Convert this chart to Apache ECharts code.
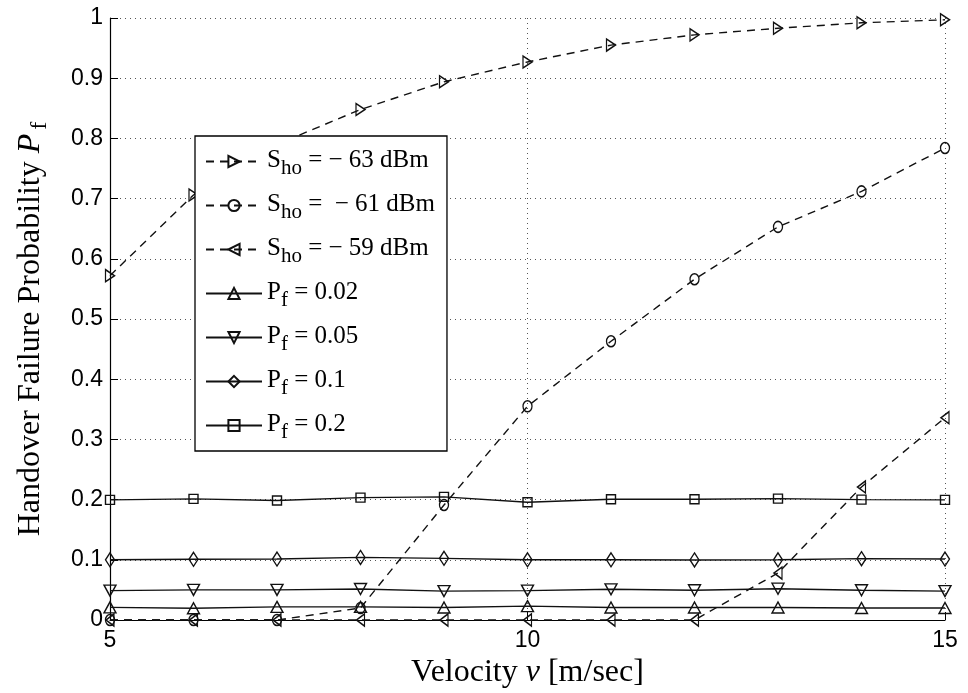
<!DOCTYPE html>
<html>
<head>
<meta charset="utf-8">
<script src="https://cdn.jsdelivr.net/npm/echarts@6/dist/echarts.min.js"></script>
<style>
  html, body { margin: 0; padding: 0; background: #fff; }
  #chart { width: 968px; height: 693px; }
</style>
</head>
<body>
<div id="chart"></div>
<script>
// velocity [m/sec]
var velocity = [5, 6, 7, 8, 9, 10, 11, 12, 13, 14, 15];

// S_ho curves
var sho63 = [0.572, 0.706, 0.79, 0.848, 0.894, 0.927, 0.955, 0.972, 0.983, 0.992, 0.997];
var sho61 = [0, 0, 0, 0.02, 0.191, 0.355, 0.463, 0.566, 0.653, 0.712, 0.784];
var sho59 = [0, 0, 0, 0, 0, 0, 0, 0, 0.078, 0.221, 0.336];

// fixed Pf curves
var pf02 = [0.1995, 0.2012, 0.1984, 0.2033, 0.2045, 0.1956, 0.2006, 0.2006, 0.2017, 0.2, 0.1995];
var pf01 = [0.1, 0.1008, 0.1013, 0.104, 0.1024, 0.1, 0.1, 0.0997, 0.1, 0.1019, 0.1013];
var pf005 = [0.0488, 0.05, 0.05, 0.0515, 0.048, 0.0488, 0.051, 0.0494, 0.052, 0.0494, 0.048];
var pf002 = [0.021, 0.0195, 0.0218, 0.0218, 0.0207, 0.023, 0.0207, 0.0207, 0.0207, 0.02, 0.02];

var yTicks = ["0", "0.1", "0.2", "0.3", "0.4", "0.5", "0.6", "0.7", "0.8", "0.9", "1"];

var names = ["S63", "S61", "S59", "P002", "P005", "P01", "P02"];
var legendText = {
  S63: "{a|S}{sub|ho}{a| = − 63 dBm}",
  S61: "{a|S}{sub|ho}{a| =  − 61 dBm}",
  S59: "{a|S}{sub|ho}{a| = − 59 dBm}",
  P002: "{a|P}{sub|f}{a| = 0.02}",
  P005: "{a|P}{sub|f}{a| = 0.05}",
  P01: "{a|P}{sub|f}{a| = 0.1}",
  P02: "{a|P}{sub|f}{a| = 0.2}"
};

function pairs(arr) {
  return velocity.map(function (v, i) { return [v, arr[i]]; });
}

function makeSeries(name, arr, symbol, rotate, size, dashed) {
  return {
    name: name,
    type: "line",
    data: pairs(arr),
    symbol: symbol,
    symbolRotate: rotate,
    symbolSize: size,
    showAllSymbol: true,
    animation: false,
    lineStyle: { color: "#111", width: 1.4, type: dashed ? [8, 6] : "solid" },
    itemStyle: { color: "rgba(255,255,255,0)", borderColor: "#111", borderWidth: 1.4 }
  };
}

var chart = echarts.init(document.getElementById("chart"));
chart.setOption({
  backgroundColor: "#fff",
  animation: false,
  grid: { left: 110, right: 23, top: 18, bottom: 73, containLabel: false, outerBoundsMode: "none" },
  legend: {
    orient: "vertical",
    left: 195,
    top: 136,
    data: names,
    backgroundColor: "#fff",
    borderColor: "#000",
    borderWidth: 1.3,
    borderRadius: 0,
    padding: [8, 12, 8, 10],
    itemWidth: 56,
    itemHeight: 14,
    itemGap: 9,
    formatter: function (n) { return legendText[n]; },
    textStyle: {
      color: "#000",
      rich: {
        a: { fontFamily: "Liberation Serif", fontSize: 25, color: "#000", lineHeight: 28, verticalAlign: "top" },
        sub: { fontFamily: "Liberation Serif", fontSize: 21, color: "#000", lineHeight: 21, padding: [14, 0, 0, 0] }
      }
    }
  },
  xAxis: {
    type: "value",
    min: 5,
    max: 15,
    interval: 5,
    name: "{a|Velocity }{i|v}{a| [m/sec]}",
    nameLocation: "middle",
    nameGap: 32,
    nameTextStyle: {
      rich: {
        a: { fontFamily: "Liberation Serif", fontSize: 32, color: "#000", lineHeight: 36 },
        i: { fontFamily: "Liberation Serif", fontStyle: "italic", fontSize: 32, color: "#000", lineHeight: 36 }
      }
    },
    axisLine: { lineStyle: { color: "#000", width: 1.2 } },
    axisTick: { inside: true, length: 8, lineStyle: { color: "#000" } },
    axisLabel: { color: "#000", fontFamily: "Liberation Sans", fontSize: 23, margin: 9 },
    splitLine: { show: true, lineStyle: { color: "#555", type: [1, 4], width: 1 } }
  },
  yAxis: {
    type: "value",
    min: 0,
    max: 1,
    interval: 0.1,
    name: "{a|Handover Failure Probability }{i|P}{sub|f}",
    nameLocation: "middle",
    nameGap: 60,
    nameTextStyle: {
      rich: {
        a: { fontFamily: "Liberation Serif", fontSize: 32, color: "#000", lineHeight: 38 },
        i: { fontFamily: "Liberation Serif", fontStyle: "italic", fontSize: 32, color: "#000", lineHeight: 38 },
        sub: { fontFamily: "Liberation Serif", fontSize: 24, color: "#000", lineHeight: 22, padding: [18, 20, 0, 4] }
      }
    },
    axisLine: { show: true, lineStyle: { color: "#000", width: 1.2 } },
    axisTick: { show: true, inside: true, length: 8, lineStyle: { color: "#000" } },
    axisLabel: {
      color: "#000", fontFamily: "Liberation Sans", fontSize: 23, margin: 7,
      formatter: function (v) { return yTicks[Math.round(v * 10)]; }
    },
    splitLine: { show: true, lineStyle: { color: "#555", type: [1, 4], width: 1 } }
  },
  series: [
    makeSeries("S63", sho63, "triangle", -90, [12, 9], true),
    makeSeries("S61", sho61, "circle", 0, [9, 11], true),
    makeSeries("S59", sho59, "triangle", 90, [12, 8], true),
    makeSeries("P002", pf002, "triangle", 0, [12, 11], false),
    makeSeries("P005", pf005, "triangle", 180, [12, 11], false),
    makeSeries("P01", pf01, "diamond", 0, [9, 14], false),
    makeSeries("P02", pf02, "rect", 0, [9, 9], false)
  ]
});
</script>
</body>
</html>
